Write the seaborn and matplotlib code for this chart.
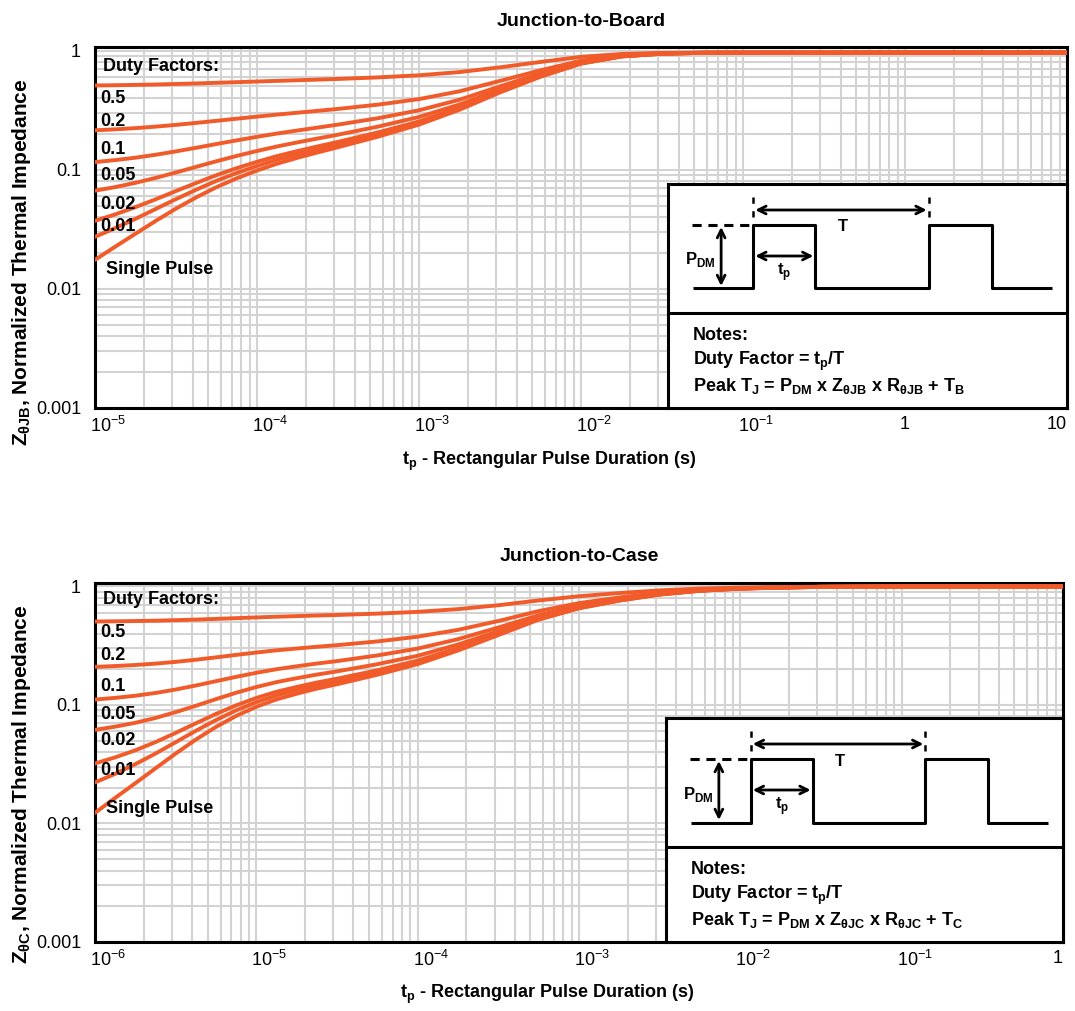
import numpy as np
import pandas as pd
import matplotlib
matplotlib.use("Agg")
import matplotlib.pyplot as plt
from matplotlib.ticker import FixedLocator, LogLocator, NullFormatter
from matplotlib.transforms import ScaledTranslation
import seaborn as sns

# ---------------- data ----------------
DUTY = ["0.5", "0.2", "0.1", "0.05", "0.02", "0.01", "Single"]

T_TOP = [1.0e-5, 1.33e-5, 1.78e-5, 2.37e-5, 3.16e-5, 4.22e-5, 5.62e-5, 7.5e-5,
         1.0e-4, 1.33e-4, 1.78e-4, 2.37e-4, 3.16e-4, 5.62e-4,
         1.0e-3, 1.78e-3, 3.16e-3, 5.62e-3, 1.0e-2, 1.78e-2, 3.16e-2, 5.62e-2,
         1.0e-1, 1.0, 10.0]
Z_TOP_05 = [0.5088, 0.5113, 0.5145, 0.5186, 0.5236, 0.5293, 0.5356, 0.5424, 0.5492, 0.5561, 0.563, 0.5698, 0.5771,
            0.5949, 0.6194, 0.6592, 0.7223, 0.8013, 0.885, 0.935, 0.955, 0.96, 0.96, 0.96, 0.96]
Z_TOP_02 = [0.214, 0.218, 0.2232, 0.2297, 0.2377, 0.2469, 0.257, 0.2678, 0.2787, 0.2898, 0.3007, 0.3117, 0.3234,
            0.3518, 0.391, 0.4547, 0.5557, 0.6821, 0.821, 0.913, 0.95, 0.958, 0.96, 0.96, 0.96]
Z_TOP_01 = [0.1158, 0.1203, 0.1261, 0.1334, 0.1424, 0.1527, 0.1642, 0.1762, 0.1886, 0.201, 0.2133, 0.2256, 0.2388,
            0.2707, 0.3149, 0.3866, 0.5001, 0.6423, 0.7986, 0.9022, 0.9457, 0.958, 0.96, 0.96, 0.96]
Z_TOP_005 = [0.0666, 0.0714, 0.0776, 0.0853, 0.0947, 0.1057, 0.1177, 0.1305, 0.1435, 0.1566, 0.1696, 0.1826, 0.1965,
             0.2302, 0.2769, 0.3525, 0.4724, 0.6225, 0.7874, 0.8967, 0.9427, 0.957, 0.958, 0.96, 0.96]
Z_TOP_002 = [0.0372, 0.0421, 0.0485, 0.0564, 0.0662, 0.0774, 0.0899, 0.103, 0.1164, 0.13, 0.1434, 0.1568, 0.1711,
             0.2059, 0.254, 0.332, 0.4557, 0.6105, 0.7807, 0.8935, 0.9409, 0.9559, 0.9579, 0.96, 0.96]
Z_TOP_001 = [0.0273, 0.0323, 0.0387, 0.0468, 0.0566, 0.068, 0.0806, 0.0939, 0.1074, 0.1211, 0.1346, 0.1482, 0.1627,
             0.1978, 0.2464, 0.3252, 0.4502, 0.6066, 0.7784, 0.8924, 0.9403, 0.9555, 0.9574, 0.96, 0.96]
Z_TOP_SP = [0.0175, 0.02254, 0.02904, 0.03715, 0.0471, 0.05861, 0.07129, 0.08472, 0.0984, 0.1122, 0.1259, 0.1396, 0.1542,
            0.1897, 0.2388, 0.3184, 0.4446, 0.6026, 0.7762, 0.8913, 0.9397, 0.955, 0.957, 0.96, 0.96]

T_BOT = [1.0e-6, 1.33e-6, 1.78e-6, 2.37e-6, 3.16e-6, 4.22e-6, 5.62e-6, 7.5e-6,
         1.0e-5, 1.33e-5, 1.78e-5, 2.37e-5, 3.16e-5, 5.62e-5,
         1.0e-4, 1.78e-4, 3.16e-4, 5.62e-4, 1.0e-3, 1.78e-3, 3.16e-3, 5.62e-3,
         1.0e-2, 1.78e-2, 3.16e-2, 1.0e-1, 1.0]
Z_BOT_05 = [0.5062, 0.5082, 0.511, 0.5146, 0.5195, 0.5256, 0.5327, 0.5405, 0.5483, 0.5557, 0.5623, 0.5687, 0.5748,
            0.59, 0.6107, 0.6442, 0.6945, 0.7624, 0.8273, 0.8802, 0.9275, 0.9602, 0.9797, 0.9898, 0.996, 1.0, 1.0]
Z_BOT_02 = [0.2098, 0.2131, 0.2175, 0.2234, 0.2311, 0.2409, 0.2522, 0.2647, 0.2773, 0.2891, 0.2996, 0.3099, 0.3197,
            0.3439, 0.377, 0.4307, 0.5112, 0.6198, 0.7237, 0.8082, 0.884, 0.9363, 0.9675, 0.9836, 0.9936, 1.0, 1.0]
Z_BOT_01 = [0.1111, 0.1148, 0.1197, 0.1263, 0.135, 0.146, 0.1588, 0.1728, 0.1869, 0.2003, 0.2121, 0.2237, 0.2346,
            0.2619, 0.2992, 0.3596, 0.4501, 0.5723, 0.6891, 0.7843, 0.8695, 0.9284, 0.9635, 0.9816, 0.9928, 1.0, 1.0]
Z_BOT_005 = [0.0617, 0.0656, 0.0708, 0.0777, 0.087, 0.0985, 0.112, 0.1269, 0.1418, 0.1558, 0.1683, 0.1805, 0.1921,
             0.2209, 0.2602, 0.324, 0.4196, 0.5486, 0.6719, 0.7723, 0.8623, 0.9244, 0.9614, 0.9805, 0.9924, 1.0, 1.0]
Z_BOT_002 = [0.0321, 0.0361, 0.0415, 0.0486, 0.0581, 0.0701, 0.084, 0.0993, 0.1147, 0.1292, 0.142, 0.1547, 0.1666,
             0.1963, 0.2369, 0.3026, 0.4012, 0.5343, 0.6615, 0.7651, 0.8579, 0.922, 0.9602, 0.9799, 0.9922, 1.0, 1.0]
Z_BOT_001 = [0.0222, 0.0262, 0.0317, 0.0389, 0.0485, 0.0606, 0.0746, 0.0901, 0.1056, 0.1203, 0.1333, 0.146, 0.1581,
             0.1881, 0.2291, 0.2955, 0.3951, 0.5296, 0.658, 0.7627, 0.8565, 0.9212, 0.9598, 0.9797, 0.9921, 1.0, 1.0]
Z_BOT_SP = [0.0123, 0.0164, 0.0219, 0.0292, 0.0389, 0.0511, 0.0653, 0.0809, 0.0966, 0.1114, 0.1245, 0.1374, 0.1496,
            0.1799, 0.2213, 0.2884, 0.389, 0.5248, 0.6546, 0.7603, 0.855, 0.9204, 0.9594, 0.9795, 0.992, 1.0, 1.0]

XTICKS_TOP = [1e-5, 1e-4, 1e-3, 1e-2, 1e-1, 1, 10]
XLABELS_TOP = [r"$\mathregular{10^{-5}}$", r"$\mathregular{10^{-4}}$", r"$\mathregular{10^{-3}}$",
               r"$\mathregular{10^{-2}}$", r"$\mathregular{10^{-1}}$", "1", "10"]
XTICKS_BOT = [1e-6, 1e-5, 1e-4, 1e-3, 1e-2, 1e-1, 1]
XLABELS_BOT = [r"$\mathregular{10^{-6}}$", r"$\mathregular{10^{-5}}$", r"$\mathregular{10^{-4}}$",
               r"$\mathregular{10^{-3}}$", r"$\mathregular{10^{-2}}$", r"$\mathregular{10^{-1}}$", "1"]
YTICKS = [0.001, 0.01, 0.1, 1]
YLABELS = ["0.001", "0.01", "0.1", "1"]

LABEL_TEXTS = ["Duty Factors:", "0.5", "0.2", "0.1", "0.05", "0.02", "0.01", "Single Pulse"]

# ---------------- style ----------------
ORANGE = "#F15A29"
GRID = "#d3d3d3"
FONT = ["Liberation Sans", "DejaVu Sans"]

sns.set_theme(style="white")
plt.rcParams["font.family"] = FONT
plt.rcParams["mathtext.fontset"] = "custom"
plt.rcParams["mathtext.rm"] = "Liberation Sans"
plt.rcParams["mathtext.bf"] = "Liberation Sans:bold"
plt.rcParams["text.color"] = "black"
plt.rcParams["axes.labelcolor"] = "black"
plt.rcParams["xtick.color"] = "black"
plt.rcParams["ytick.color"] = "black"

W, H = 1075, 1011
fig = plt.figure(figsize=(W / 100, H / 100), dpi=100)


def px_axes(l, t, r, b, **kw):
    return fig.add_axes([l / W, 1 - b / H, (r - l) / W, (b - t) / H], **kw)


def panel(ax, t, series, xticks, xlabels, title, ylabel, label_pos, title_pad, ylab_y):
    rows = []
    for name, z in zip(DUTY, series):
        for tt, zz in zip(t, z):
            rows.append((name, tt, zz))
    df = pd.DataFrame(rows, columns=["duty", "t", "z"])
    ax.set_xscale("log")
    ax.set_yscale("log")
    sns.lineplot(data=df, x="t", y="z", units="duty", estimator=None, color=ORANGE,
                 lw=2.8, ax=ax, legend=False, zorder=3)
    ax.set_xlim(t[0], t[-1])
    ax.set_ylim(0.001, 1.07)
    ax.xaxis.set_major_locator(FixedLocator(xticks))
    ax.set_xticklabels(xlabels)
    ax.yaxis.set_major_locator(FixedLocator(YTICKS))
    ax.set_yticklabels(YLABELS)
    for a in (ax.xaxis, ax.yaxis):
        a.set_minor_locator(LogLocator(base=10, subs=np.arange(2, 10), numticks=100))
        a.set_minor_formatter(NullFormatter())
    ax.grid(True, which="both", color=GRID, lw=1.5)
    ax.set_axisbelow(True)
    ax.tick_params(which="both", length=0, labelsize=13, colors="black")
    ax.tick_params(axis="y", pad=10)
    ax.tick_params(axis="x", pad=6)
    shift = ScaledTranslation(-5 / 100, 0, fig.dpi_scale_trans)
    for lbl in ax.get_xticklabels():
        if lbl.get_text().startswith("$"):
            lbl.set_ha("left")
            lbl.set_transform(lbl.get_transform() + shift)
    ax.get_xticklabels()[-1].set_ha("right")
    for s in ax.spines.values():
        s.set_color("black")
        s.set_linewidth(2.2)
    ax.set_title(title, fontweight="bold", fontsize=14, pad=title_pad, color="black")
    ax.set_xlabel(r"t$_{\mathregular{p}}$ - Rectangular Pulse Duration (s)", fontweight="bold", fontsize=13)
    ax.set_ylabel(ylabel, fontweight="bold", fontsize=15)
    ax.yaxis.set_label_coords(-0.064, ylab_y)
    ax.xaxis.set_label_coords(0.467, -0.115)
    for txt, (xa, ya) in zip(LABEL_TEXTS, label_pos):
        ax.text(xa, ya, txt, transform=ax.transAxes, fontweight="bold", fontsize=13,
                ha="left", va="center", color="black", zorder=4)


def inset(l, t, r, b, sub):
    bx = px_axes(l, t, r, b, zorder=10)
    bx.set_facecolor("white")
    bx.set_xlim(0, 398)
    bx.set_ylim(224, 0)
    bx.set_xticks([])
    bx.set_yticks([])
    for s in bx.spines.values():
        s.set_color("black")
        s.set_linewidth(2.2)
    k = dict(color="black", lw=2.2, solid_capstyle="butt")
    bx.plot([0, 398], [129, 129], **k)
    bx.plot([25, 85, 85, 147, 147, 260, 260, 323, 323, 383],
            [104.5, 104.5, 41, 41, 104.5, 104.5, 41, 41, 104.5, 104.5], **k)
    bx.plot([24, 85], [41, 41], color="black", lw=2.2, ls=(0, (3, 2.2)))
    bx.plot([85, 85], [13, 41], color="black", lw=1.8, ls=(0, (2.5, 3)))
    bx.plot([260, 260], [13, 41], color="black", lw=1.8, ls=(0, (2.5, 3)))
    ap = dict(arrowstyle="<->", color="black", lw=2.0, mutation_scale=14, shrinkA=0, shrinkB=0)
    bx.annotate("", xy=(258, 26), xytext=(87, 26), arrowprops=ap)
    bx.annotate("", xy=(53, 102), xytext=(53, 43), arrowprops=ap)
    bx.annotate("", xy=(145, 72), xytext=(87, 72), arrowprops=ap)
    tk = dict(fontweight="bold", fontsize=12, color="black")
    bx.text(32, 76, r"P$_{\mathregular{DM}}$", ha="center", va="center", **tk)
    bx.text(174, 43, "T", ha="center", va="center", **tk)
    bx.text(116, 88, r"t$_{\mathregular{p}}$", ha="center", va="center", **tk)
    nk = dict(fontweight="bold", fontsize=13, color="black", ha="left", va="center")
    bx.text(25, 152, "Notes:", **nk)
    bx.text(25, 177, r"Duty Factor = t$_{\mathregular{p}}$/T", **nk)
    bx.text(25, 202, r"Peak T$_{\mathregular{J}}$ = P$_{\mathregular{DM}}$ x Z$_{\mathregular{θJ%s}}$ x R$_{\mathregular{θJ%s}}$ + T$_{\mathregular{%s}}$" % (sub, sub, sub), **nk)


ax1 = px_axes(95, 47, 1067, 408)
panel(ax1, T_TOP, [Z_TOP_05, Z_TOP_02, Z_TOP_01, Z_TOP_005, Z_TOP_002, Z_TOP_001, Z_TOP_SP],
      XTICKS_TOP, XLABELS_TOP, "Junction-to-Board",
      r"Z$_{\mathregular{θJB}}$, Normalized Thermal Impedance",
      [(0.008, 0.945), (0.005, 0.856), (0.005, 0.793), (0.005, 0.715), (0.005, 0.643),
       (0.005, 0.565), (0.005, 0.504), (0.011, 0.384)], 15, 0.404)
inset(668, 184, 1067, 408, "B")

ax2 = px_axes(95, 583, 1063, 942)
panel(ax2, T_BOT, [Z_BOT_05, Z_BOT_02, Z_BOT_01, Z_BOT_005, Z_BOT_002, Z_BOT_001, Z_BOT_SP],
      XTICKS_BOT, XLABELS_BOT, "Junction-to-Case",
      r"Z$_{\mathregular{θC}}$, Normalized Thermal Impedance",
      [(0.008, 0.953), (0.005, 0.863), (0.005, 0.797), (0.005, 0.711), (0.005, 0.634),
       (0.005, 0.562), (0.005, 0.477), (0.011, 0.372)], 16, 0.44)
inset(666, 718, 1063, 942, "C")

fig.savefig("out.png", dpi=100, facecolor="white")
